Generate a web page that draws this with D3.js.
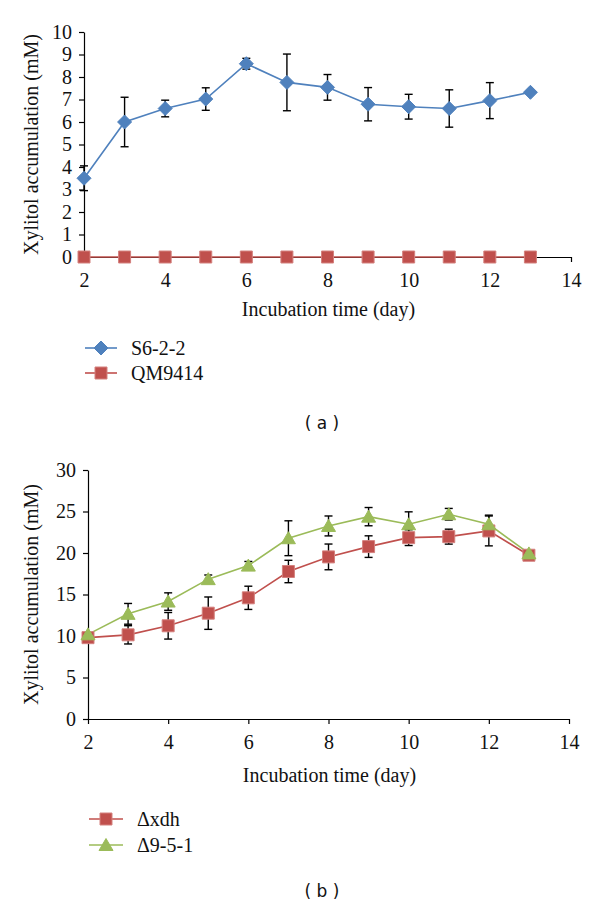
<!DOCTYPE html>
<html><head><meta charset="utf-8">
<script src="https://cdn.jsdelivr.net/npm/d3@7"></script>
<style>body{margin:0;background:#fff}svg{display:block}
.sf{font-family:"Liberation Serif","DejaVu Serif",serif;font-size:20px;fill:#111}
.cap{font-family:"DejaVu Sans",sans-serif;font-size:17px;fill:#111;white-space:pre}
</style>
</head><body>
<svg id="c" width="600" height="909"></svg>
<script>
// ---- data ----
const days = [2,3,4,5,6,7,8,9,10,11,12,13];
const xTicks = [2,4,6,8,10,12,14];
const yTicksA = [0,1,2,3,4,5,6,7,8,9,10];
const yTicksB = [0,5,10,15,20,25,30];
const s622 = [3.5, 6.0, 6.6, 7.02, 8.59, 7.76, 7.54, 6.79, 6.68, 6.6, 6.95, 7.32];
const s622Err = [0.55, 1.1, 0.37, 0.5, 0.24, 1.26, 0.57, 0.74, 0.55, 0.83, 0.8, 0];
const qm9414 = [0,0,0,0,0,0,0,0,0,0,0,0];
const dxdh = [9.8, 10.14, 11.23, 12.75, 14.6, 17.77, 19.53, 20.77, 21.85, 21.97, 22.66, 19.73];
const dxdhErr = [0, 1.1, 1.6, 1.95, 1.4, 1.35, 1.55, 1.3, 0.95, 0.9, 1.8, 0];
const d951 = [10.2, 12.67, 14.15, 16.85, 18.48, 21.78, 23.26, 24.38, 23.46, 24.67, 23.46, 19.95];
const d951Err = [0, 1.25, 1.05, 0.5, 0.5, 2.1, 1.2, 1.1, 1.5, 0.7, 1.1, 0];
const xTitle = "Incubation time (day)";
const yTitle = "Xylitol accumulation (mM)";

const BLUE = "#4F81BD", RED = "#C0504D", GREEN = "#9BBB59";
const svg = d3.select("#c");

const shapes = {
  diamond: "M0,-7L7,0L0,7L-7,0Z",
  square: "M-6,-6H6V6H-6Z",
  triangle: "M0,-6.5L7,5.5L-7,5.5Z"
};
const strokeOf = {diamond: BLUE, square: "#D4817E", triangle: GREEN};

function panel(cfg){
  const g = svg.append("g");
  const x = d3.scaleLinear().domain([2,14]).range(cfg.xr);
  const y = d3.scaleLinear().domain(cfg.yd).range(cfg.yr);
  const ax = g.append("g").attr("transform",`translate(0,${cfg.yr[0]})`)
    .call(d3.axisBottom(x).tickValues(xTicks).tickSize(5).tickPadding(11).tickSizeOuter(0));
  const ay = g.append("g").attr("transform",`translate(${cfg.xr[0]},0)`)
    .call(d3.axisLeft(y).tickValues(cfg.yt).tickSize(5).tickPadding(7).tickSizeOuter(0));
  [ax,ay].forEach(a=>{
    a.attr("font-family",null).attr("font-size",null);
    a.selectAll("path,line").attr("stroke","#000").attr("stroke-width",1.2);
    a.selectAll("text").attr("class","sf").attr("fill",null);
  });
  g.append("text").attr("class","sf").attr("x",(cfg.xr[0]+cfg.xr[1])/2+1).attr("y",cfg.xTitleY)
    .attr("text-anchor","middle").text(xTitle);
  g.append("text").attr("class","sf").attr("transform",`translate(38,${(cfg.yr[0]+cfg.yr[1])/2}) rotate(-90)`)
    .attr("text-anchor","middle").text(yTitle);

  const line = d3.line().x((d,i)=>x(days[i])).y(d=>y(d));
  cfg.series.forEach(s=>{
    g.append("path").datum(s.values).attr("d",line).attr("fill","none")
      .attr("stroke",s.color).attr("stroke-width",1.6);
  });
  cfg.series.forEach(s=>{
    if(!s.err) return;
    const eg = g.append("g").attr("stroke","#000").attr("stroke-width",1.4);
    s.values.forEach((v,i)=>{
      const e = s.err[i]; if(!e) return;
      const cx = x(days[i]);
      eg.append("line").attr("x1",cx).attr("x2",cx).attr("y1",y(v-e)).attr("y2",y(v+e));
      [v-e,v+e].forEach(w=>eg.append("line").attr("x1",cx-4).attr("x2",cx+4).attr("y1",y(w)).attr("y2",y(w)));
    });
  });
  cfg.series.forEach(s=>{
    g.append("g").selectAll("path").data(s.values).join("path")
      .attr("transform",(d,i)=>`translate(${x(days[i])},${y(d)})`)
      .attr("d",shapes[s.shape]).attr("fill",s.color)
      .attr("stroke",strokeOf[s.shape]).attr("stroke-width",1);
  });
  cfg.series.forEach((s,i)=>{
    const ly = cfg.legY[i];
    g.append("line").attr("x1",cfg.legX[0]).attr("x2",cfg.legX[1]).attr("y1",ly).attr("y2",ly)
      .attr("stroke",s.color).attr("stroke-width",1.6);
    g.append("path").attr("transform",`translate(${(cfg.legX[0]+cfg.legX[1])/2},${ly})`)
      .attr("d",shapes[s.shape]).attr("fill",s.color).attr("stroke",strokeOf[s.shape]).attr("stroke-width",1);
    g.append("text").attr("class","sf").attr("x",cfg.legX[2]).attr("y",ly+6.5).text(s.name);
  });
  g.append("text").attr("class","cap").attr("x",322).attr("y",cfg.capY).attr("text-anchor","middle")
    .attr("xml:space","preserve").text(cfg.cap);
}

panel({xr:[84,571], yr:[257,32], yd:[0,10], yt:yTicksA, xTitleY:316,
  legX:[85,117,131], legY:[348,373], capY:429, cap:"( a )",
  series:[
    {name:"S6-2-2", values:s622, err:s622Err, color:BLUE, shape:"diamond"},
    {name:"QM9414", values:qm9414, err:null, color:RED, shape:"square"}
  ]});
panel({xr:[88,569], yr:[719,470], yd:[0,30], yt:yTicksB, xTitleY:782,
  legX:[89,123,137], legY:[819,845], capY:897, cap:"( b )",
  series:[
    {name:"Δxdh", values:dxdh, err:dxdhErr, color:RED, shape:"square"},
    {name:"Δ9-5-1", values:d951, err:d951Err, color:GREEN, shape:"triangle"}
  ]});
</script>
</body></html>
